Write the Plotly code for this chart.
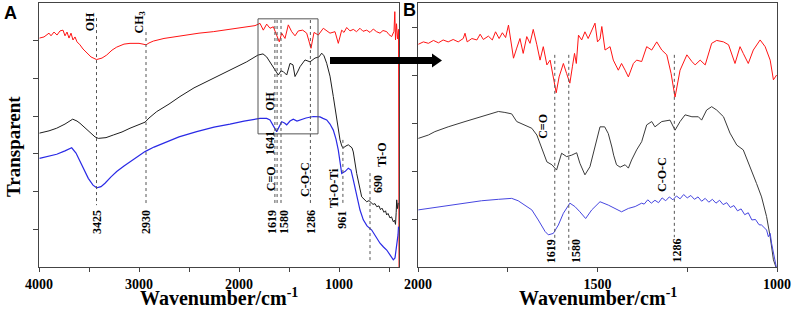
import plotly.graph_objects as go

W, H = 796, 309
def px(x): return x / W
def py(y): return 1 - y / H

# ---------------- Panel A data (wavenumber, relative transmittance) ----------------
a_red_wn = [3995,3950,3900,3880,3850,3820,3790,3760,3740,3720,3700,3680,3660,3640,3620,3590,3560,3523,3480,3425,
            3370,3323,3270,3223,3150,3090,3000,2960,2930,2900,2857,2750,2590,2400,2257,2100,1950,1840,1790,1757,
            1723,1690,1657,1623,1597,1573,1540,1507,1473,1440,1407,1363,1323,1280,1250,1207,1157,1090,1040,1007,
            990,973,950,923,890,857,825,790,760,723,690,657,625,590,560,523,500,473,450,442,435,425,415,405,400]
a_red_t = [6.07,6.10,6.20,6.13,6.23,6.15,6.26,6.28,6.13,6.23,6.07,6.20,6.02,6.10,5.97,5.89,5.78,5.67,5.57,5.50,
           5.54,5.62,5.75,5.83,5.91,5.93,5.93,5.91,5.89,5.94,5.99,6.06,6.13,6.20,6.24,6.30,6.35,6.40,6.46,6.28,
           6.44,6.33,6.37,6.15,5.97,6.20,6.06,6.42,6.24,6.13,6.26,6.28,6.20,5.80,6.22,6.15,6.33,6.20,6.24,5.93,
           6.15,6.28,6.22,6.35,6.26,6.30,6.24,6.33,6.25,6.28,6.22,6.31,6.24,6.20,6.27,6.24,6.16,6.11,6.25,6.77,
           6.02,6.45,6.05,6.30,0.0]

a_black_wn = [3995,3900,3823,3740,3663,3620,3590,3540,3490,3440,3407,3330,3257,3170,3090,3000,2940,2900,2823,2700,
              2590,2450,2257,2100,1923,1810,1760,1723,1690,1657,1620,1607,1580,1557,1523,1490,1460,1440,1415,1390,
              1340,1290,1240,1200,1173,1150,1123,1090,1057,1030,1007,990,970,957,930,907,870,857,823,800,
              773,750,723,700,680,660,640,623,600,585,570,550,535,523,510,490,475,457,445,435,428,423,415,408]
a_black_t = [3.55,3.61,3.68,3.79,3.92,3.87,3.81,3.69,3.55,3.45,3.41,3.43,3.50,3.58,3.68,3.77,3.84,3.95,4.12,4.32,
             4.52,4.75,5.00,5.21,5.44,5.62,5.65,5.57,5.44,5.31,5.17,5.09,5.20,5.18,5.09,5.40,5.36,5.05,5.17,5.31,
             5.49,5.44,5.54,5.57,5.67,5.60,5.40,5.06,4.52,4.03,3.55,3.37,3.19,3.16,3.21,3.24,3.16,3.05,2.48,2.15,
             1.86,1.80,1.73,1.76,1.70,1.66,1.68,1.60,1.62,1.52,1.56,1.45,1.49,1.38,1.42,1.30,1.33,1.20,1.24,1.13,
             1.45,1.78,1.55,1.70]

a_blue_wn = [3995,3900,3823,3740,3673,3630,3590,3550,3507,3460,3423,3380,3340,3280,3223,3150,3090,3010,2940,2850,
             2757,2600,2423,2250,2090,1950,1790,1723,1690,1673,1645,1623,1600,1573,1545,1523,1490,1457,1420,1390,
             1330,1257,1190,1160,1123,1090,1057,1030,1007,985,973,950,940,907,880,857,823,790,757,720,
             673,640,590,555,523,490,457,440,423,410,405]
a_blue_t = [2.88,2.93,2.99,3.08,3.16,3.02,2.79,2.57,2.35,2.17,2.10,2.13,2.22,2.39,2.53,2.68,2.79,2.94,3.06,3.18,
            3.28,3.45,3.59,3.71,3.79,3.87,3.94,3.94,3.90,3.81,3.69,3.59,3.71,3.85,3.82,3.77,3.87,3.92,3.87,3.90,
            3.95,3.99,3.98,3.94,3.90,3.79,3.63,3.39,3.10,2.70,2.48,2.52,2.53,2.62,2.57,2.31,1.86,1.51,1.25,1.09,
            0.98,0.85,0.63,0.53,0.45,0.32,0.19,0.24,0.54,0.85,1.07]

# ---------------- Panel B data (zoomed 2000-1000 cm-1) ----------------
b_red_wn = [1999,1985,1971,1957,1943,1930,1916,1902,1888,1874,1869,1863,1850,1836,1827,1818,1804,1793,1784,1774,
            1765,1756,1748,1741,1734,1725,1716,1707,1697,1688,1679,1669,1660,1651,1641,1632,1626,1620,1615,1607,
            1595,1586,1577,1570,1564,1559,1553,1544,1535,1526,1516,1507,1500,1493,1488,1479,1465,1456,1442,1433,
            1423,1414,1400,1391,1377,1363,1349,1335,1321,1307,1295,1284,1270,1251,1237,1228,1214,1200,1182,1168,
            1149,1135,1117,1103,1094,1080,1066,1047,1033,1019,1010,1001]
b_red_t = [4.64,4.69,4.66,4.72,4.67,4.73,4.69,4.74,4.69,4.76,4.87,4.69,4.76,4.73,4.85,4.74,4.81,4.73,4.90,4.76,
           4.88,4.78,5.04,4.66,4.35,4.56,4.76,4.45,4.80,4.66,4.95,4.63,4.31,4.59,4.21,4.31,4.07,3.86,3.63,3.96,
           4.24,4.03,3.83,4.17,4.45,4.24,4.83,4.73,4.90,4.76,4.95,5.08,4.69,4.75,5.01,4.52,4.59,4.31,4.10,4.24,
           4.10,3.96,4.24,4.31,4.28,4.59,4.52,4.69,4.52,4.42,4.03,3.54,4.10,4.42,4.28,4.21,4.31,4.21,4.66,4.72,
           4.69,4.63,4.24,4.59,4.45,4.24,4.52,4.73,4.59,4.31,3.90,4.00]

b_black_wn = [1999,1971,1953,1916,1869,1823,1776,1758,1739,1725,1702,1683,1669,1655,1641,1627,1614,1600,1586,1572,
              1558,1549,1535,1521,1507,1493,1480,1470,1460,1455,1447,1437,1423,1414,1405,1391,1377,1363,1349,1340,
              1321,1298,1284,1270,1256,1237,1219,1210,1196,1182,1168,1149,1131,1112,1094,1075,1057,1043,1029,1019,
              1010,1003]
b_black_t = [2.68,2.75,2.82,2.92,3.03,3.13,3.24,3.22,3.19,3.03,2.96,2.89,2.75,2.47,2.19,2.13,2.02,2.37,2.30,2.33,
             2.38,2.16,1.92,2.09,2.51,2.92,2.92,2.78,2.50,2.33,2.13,2.08,2.13,2.06,2.23,2.44,2.61,2.96,3.03,2.92,
             3.03,3.06,2.85,3.03,3.17,3.13,3.13,3.06,3.27,3.34,3.27,3.13,2.79,2.54,2.44,2.09,1.74,1.46,1.05,0.63,
             0.15,0.0]

b_blue_wn = [1999,1953,1916,1869,1823,1776,1739,1721,1702,1683,1665,1646,1637,1623,1609,1595,1577,1563,1549,1533,
             1516,1493,1470,1451,1433,1414,1395,1377,1370,1360,1350,1340,1330,1320,1310,1300,1290,1280,1270,1260,
             1250,1240,1230,1220,1210,1200,1190,1180,1170,1160,1150,1140,1130,1120,1110,1100,1090,1080,1070,1060,
             1050,1043,1029,1024,1019,1015,1010,1002]
b_blue_t = [1.19,1.24,1.29,1.34,1.38,1.41,1.43,1.38,1.29,1.19,0.98,0.74,0.67,0.70,0.875,1.12,1.33,1.26,1.15,1.01,
            1.19,1.36,1.29,1.22,1.15,1.22,1.26,1.33,1.31,1.40,1.33,1.39,1.34,1.44,1.38,1.46,1.40,1.48,1.42,1.51,
            1.44,1.49,1.41,1.46,1.37,1.43,1.35,1.41,1.33,1.39,1.30,1.34,1.24,1.28,1.17,1.21,1.09,1.13,0.98,0.99,
            0.88,0.875,0.77,0.63,0.70,0.49,0.28,0.0]

# peak markers
a_peaks = [3425, 2930, 1641, 1619, 1580, 1286, 961, 690]
b_peaks = [1619, 1580, 1286]

# axis ticks
a_tickvals = [4000, 3500, 3000, 2500, 2000, 1500, 1000, 500]
a_ticktext = ["4000", "", "3000", "", "2000", "", "1000", ""]
b_tickvals = [2000, 1750, 1500, 1250, 1000]
b_ticktext = ["2000", "", "1500", "", "1000"]

RED, BLACK, BLUE = "#ff1414", "#1e1e1e", "#2a2ae6"
BLACK_B, BLUE_B = "#3a3a3a", "#4646e0"

fig = go.Figure()
fig.add_trace(go.Scatter(x=a_red_wn, y=a_red_t, mode="lines", line=dict(color=RED, width=1), xaxis="x", yaxis="y"))
fig.add_trace(go.Scatter(x=a_black_wn, y=a_black_t, mode="lines", line=dict(color=BLACK, width=1), xaxis="x", yaxis="y"))
fig.add_trace(go.Scatter(x=a_blue_wn, y=a_blue_t, mode="lines", line=dict(color=BLUE, width=1.2), xaxis="x", yaxis="y"))
fig.add_trace(go.Scatter(x=b_red_wn, y=b_red_t, mode="lines", line=dict(color=RED, width=1), xaxis="x2", yaxis="y2"))
fig.add_trace(go.Scatter(x=b_black_wn, y=b_black_t, mode="lines", line=dict(color=BLACK_B, width=1), xaxis="x2", yaxis="y2"))
fig.add_trace(go.Scatter(x=b_blue_wn, y=b_blue_t, mode="lines", line=dict(color=BLUE_B, width=1), xaxis="x2", yaxis="y2"))

AX = "#444444"
tickfont = dict(family="Liberation Serif", size=14, color="black")
ydom = [py(267), py(3)]

def xax(domain, rng, vals, labels, anchor):
    return dict(domain=domain, range=rng, anchor=anchor, tickvals=vals,
                ticktext=["<b>%s</b>" % t if t else " " for t in labels],
                ticks="outside", ticklen=4, tickcolor=AX, showline=True, mirror=True,
                linecolor=AX, linewidth=1, showgrid=False, zeroline=False, tickfont=tickfont,
                automargin=False)

def yax(rng, vals, anchor):
    return dict(domain=ydom, range=rng, anchor=anchor, tickvals=vals, showticklabels=False,
                ticks="outside", ticklen=5, tickcolor=AX, showline=True, mirror=True,
                linecolor=AX, linewidth=1, showgrid=False, zeroline=False, automargin=False)

shapes = []
dot = dict(color="#555555", width=1, dash="dot")
a_line_spans = {3425: (6.60, 1.64), 2930: (6.23, 1.64), 1641: (6.55, 1.64), 1619: (6.55, 1.64),
                1580: (6.55, 1.64), 1286: (6.55, 1.64), 961: (3.37, 1.64), 690: (2.49, 0.13)}
for p in a_peaks:
    y0, y1 = a_line_spans[p]
    shapes.append(dict(type="line", xref="x", yref="y", x0=p, x1=p, y0=y0, y1=y1, line=dot))
b_line_spans = {1619: (4.42, 0.35), 1580: (4.42, 0.35), 1286: (4.42, 0.62)}
for p in b_peaks:
    y0, y1 = b_line_spans[p]
    shapes.append(dict(type="line", xref="x2", yref="y2", x0=p, x1=p, y0=y0, y1=y1, line=dot))
# zoom box in panel A
shapes.append(dict(type="rect", xref="x", yref="y", x0=1810, x1=1210, y0=3.53, y1=6.58,
                   line=dict(color="#555555", width=1)))
# arrow (shaft + head)
shapes.append(dict(type="rect", xref="paper", yref="paper", x0=px(330), x1=px(434), y0=py(64), y1=py(57),
                   fillcolor="black", line=dict(width=0)))
shapes.append(dict(type="path", xref="paper", yref="paper",
                   path="M %f,%f L %f,%f L %f,%f Z" % (px(432), py(53.5), px(442), py(60.5), px(432), py(67.5)),
                   fillcolor="black", line=dict(width=0)))

lab = dict(family="Liberation Serif", size=12, color="black")
annotations = []
def rot(text, x, y, xref="x", yref="y"):
    annotations.append(dict(text="<b>%s</b>" % text, x=x, y=y, xref=xref, yref=yref, textangle=-90,
                            showarrow=False, font=lab, xanchor="center", yanchor="middle"))

# Panel A labels
rot("OH", 3495, 6.50)
rot("CH<sub>3</sub>", 2995, 6.47)
rot("3425", 3420, 1.19)
rot("2930", 2930, 1.19)
rot("OH", 1690, 4.38)
rot("1641", 1690, 3.29)
rot("C=O", 1680, 2.33)
rot("1619", 1670, 1.19)
rot("1580", 1550, 1.19)
rot("C-O-C", 1340, 2.31)
rot("1286", 1280, 1.19)
rot("Ti-O-Ti", 1050, 2.09)
rot("961", 970, 1.25)
rot("Ti-O", 570, 2.97)
rot("690", 610, 2.20)
# Panel B labels
rot("C=O", 1652, 2.94, "x2", "y2")
rot("1619", 1629, 0.33, "x2", "y2")
rot("1580", 1560, 0.33, "x2", "y2")
rot("C-O-C", 1320, 1.92, "x2", "y2")
rot("1286", 1278, 0.35, "x2", "y2")

title_font = dict(family="Liberation Serif", size=20, color="black")
for cx in (219, 598):
    annotations.append(dict(text="<b>Wavenumber/cm<sup>-1</sup></b>", x=px(cx), y=py(297), xref="paper", yref="paper",
                            showarrow=False, font=title_font, xanchor="center", yanchor="middle"))
annotations.append(dict(text="<b>Transparent</b>", x=px(13), y=py(147), xref="paper", yref="paper", textangle=-90,
                        showarrow=False, font=dict(family="Liberation Serif", size=19, color="black"),
                        xanchor="center", yanchor="middle"))
for t, x, y in (("A", 10, 13), ("B", 409, 10)):
    annotations.append(dict(text="<b>%s</b>" % t, x=px(x), y=py(y), xref="paper", yref="paper",
                            showarrow=False, font=dict(family="Liberation Sans", size=18, color="black"),
                            xanchor="center", yanchor="middle"))

fig.update_layout(
    width=W, height=H, margin=dict(l=0, r=0, t=0, b=0, pad=0, autoexpand=False),
    paper_bgcolor="white", plot_bgcolor="white", showlegend=False,
    xaxis=xax([px(39), px(399)], [4000, 400], a_tickvals, a_ticktext, "y"),
    yaxis=yax([0, 7], [1, 2, 3, 4, 5, 6], "x"),
    xaxis2=xax([px(418), px(777)], [2000, 1000], b_tickvals, b_ticktext, "y2"),
    yaxis2=yax([0, 5.5], [1, 2, 3, 4, 5], "x2"),
    shapes=shapes, annotations=annotations,
)

fig.write_html("out.html", config={"displayModeBar": False},
               post_script="document.body.style.margin='0px';document.body.style.padding='0px';")
